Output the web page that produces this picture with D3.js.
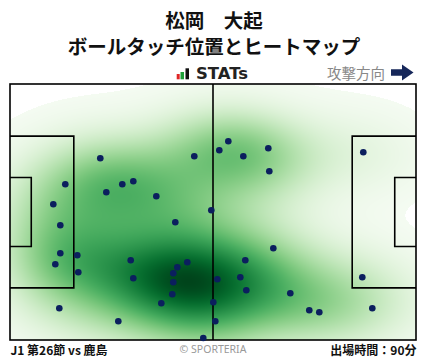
<!DOCTYPE html>
<html>
<head>
<meta charset="utf-8">
<script src="https://cdn.jsdelivr.net/npm/d3@7"></script>
<style>
  html, body { margin: 0; padding: 0; background: #fff; }
  svg { display: block; font-family: "Noto Sans CJK JP", "Noto Sans", sans-serif; }
</style>
</head>
<body>
<svg id="chart" width="428" height="359"></svg>
<script>
// Ball touch positions, pitch metres (105 x 68), attacking left -> right
const touchX = [23.35, 47.66, 54.13, 56.46, 60.34, 66.80, 67.06, 91.37, 14.30, 29.04,
                31.89, 24.91, 37.84, 11.20, 52.06, 13.01, 42.75, 68.10, 13.01, 17.41,
                11.72, 17.66, 31.22, 31.89, 45.85, 43.27, 42.23, 42.23, 41.97, 39.13,
                60.85, 59.56, 61.11, 53.61, 72.49, 77.40, 79.99, 91.11, 93.70, 12.75,
                28.01, 52.58, 53.10, 49.99];
const touchY = [19.74, 19.20, 17.61, 15.22, 19.20, 17.08, 23.19, 18.14, 26.64, 26.64,
                25.85, 28.77, 29.83, 31.95, 33.55, 37.53, 36.74, 43.64, 44.97, 45.50,
                47.89, 50.02, 46.83, 51.61, 47.36, 48.69, 50.28, 52.67, 55.86, 58.25,
                46.83, 51.35, 54.80, 51.88, 55.60, 60.11, 60.64, 51.35, 59.58, 59.58,
                63.03, 57.99, 63.03, 67.47];

const titleLines = ["松岡　大起", "ボールタッチ位置とヒートマップ"];
const matchLabel = "J1 第26節 vs 鹿島";
const minutesLabel = "出場時間：90分";
const creditLabel = "© SPORTERIA";
const directionLabel = "攻撃方向";

const PITCH_L = 105, PITCH_W = 68;

const svg = d3.select("#chart");
const x = d3.scaleLinear().domain([0, PITCH_L]).range([10, 416]);
const y = d3.scaleLinear().domain([0, PITCH_W]).range([84, 340]);

// ---- header ----
svg.append("text").attr("x", 214).attr("y", 27.5)
  .attr("text-anchor", "middle").attr("font-size", 19.5).attr("font-weight", 700)
  .attr("fill", "#111").text(titleLines[0]);
svg.append("text").attr("x", 214).attr("y", 54)
  .attr("text-anchor", "middle").attr("font-size", 19.5).attr("font-weight", 700)
  .attr("fill", "#111").text(titleLines[1]);

// STATs mark
const logo = svg.append("g");
logo.append("rect").attr("x", 176.7).attr("y", 74).attr("width", 3).attr("height", 5.3).attr("fill", "#e02525");
logo.append("rect").attr("x", 180.5).attr("y", 72).attr("width", 3.5).attr("height", 7.3).attr("fill", "#1fa03a");
logo.append("rect").attr("x", 185.5).attr("y", 68.3).attr("width", 3.5).attr("height", 11).attr("fill", "#111");
logo.append("text").attr("x", 196).attr("y", 79.3)
  .style("font-family", "'DejaVu Sans', sans-serif").attr("font-weight", 700)
  .attr("font-size", 15).attr("fill", "#222")
  .attr("textLength", 52).attr("lengthAdjust", "spacingAndGlyphs")
  .text("STATs");

// attack direction
svg.append("text").attr("x", 385).attr("y", 78.5).attr("text-anchor", "end")
  .attr("font-size", 14.5).attr("fill", "#888").text(directionLabel);
svg.append("path")
  .attr("d", "M391,69.3 L402,69.3 L402,64.5 L413.5,72.5 L402,80.5 L402,75.7 L391,75.7 Z")
  .attr("fill", "#16275a");

// ---- heat map (Gaussian KDE, Scott bandwidth) ----
const n = touchX.length;
const mxv = d3.mean(touchX), myv = d3.mean(touchY);
let sxx = 0, syy = 0, sxy = 0;
for (let i = 0; i < n; i++) {
  const dx = touchX[i] - mxv, dy = touchY[i] - myv;
  sxx += dx * dx; syy += dy * dy; sxy += dx * dy;
}
sxx /= (n - 1); syy /= (n - 1); sxy /= (n - 1);
const fac = Math.pow(n, -1 / 6);
const bxx = sxx * fac * fac, byy = syy * fac * fac, bxy = sxy * fac * fac;
const det = bxx * byy - bxy * bxy;
const ixx = byy / det, iyy = bxx / det, ixy = -bxy / det;

const x0 = x(0), y0 = y(0);
const GW = Math.round(x(PITCH_L) - x0), GH = Math.round(y(PITCH_W) - y0);
const dens = new Float64Array(GW * GH);
for (let j = 0; j < GH; j++) {
  const my = y.invert(y0 + j + 0.5);
  for (let i = 0; i < GW; i++) {
    const mx = x.invert(x0 + i + 0.5);
    let s = 0;
    for (let k = 0; k < n; k++) {
      const dx = mx - touchX[k], dy = my - touchY[k];
      s += Math.exp(-0.5 * (ixx * dx * dx + 2 * ixy * dx * dy + iyy * dy * dy));
    }
    dens[j * GW + i] = s;
  }
}
const dmax = d3.max(dens);
const thresh = 0.02;
const canvas = document.createElement("canvas");
canvas.width = GW; canvas.height = GH;
const ctx = canvas.getContext("2d");
const img = ctx.createImageData(GW, GH);
for (let p = 0; p < dens.length; p++) {
  const t = dens[p] / dmax;
  let r = 255, g = 255, b = 255;
  if (t >= thresh) {
    const c = d3.rgb(d3.interpolateGreens(t));
    r = c.r; g = c.g; b = c.b;
  }
  img.data[p * 4] = r; img.data[p * 4 + 1] = g; img.data[p * 4 + 2] = b; img.data[p * 4 + 3] = 255;
}
ctx.putImageData(img, 0, 0);
svg.append("image").attr("x", x0).attr("y", y0).attr("width", GW).attr("height", GH)
  .attr("href", canvas.toDataURL());

// ---- pitch markings ----
const lines = svg.append("g").attr("fill", "none").attr("stroke", "#000").attr("stroke-width", 1.6);
lines.append("rect").attr("x", x(0)).attr("y", y(0)).attr("width", x(PITCH_L) - x(0)).attr("height", y(PITCH_W) - y(0));
lines.append("line").attr("x1", x(PITCH_L / 2)).attr("x2", x(PITCH_L / 2)).attr("y1", y(0)).attr("y2", y(PITCH_W));
const boxes = [[16.5, 40.32], [5.5, 18.32]];
boxes.forEach(([d, w]) => {
  const top = y(PITCH_W / 2 - w / 2), h = y(PITCH_W / 2 + w / 2) - top;
  lines.append("path").attr("d", `M${x(0)},${top} H${x(d)} V${top + h} H${x(0)}`);
  lines.append("path").attr("d", `M${x(PITCH_L)},${top} H${x(PITCH_L - d)} V${top + h} H${x(PITCH_L)}`);
});

// ---- touches ----
svg.append("g").selectAll("circle").data(d3.range(n)).join("circle")
  .attr("cx", i => x(touchX[i])).attr("cy", i => y(touchY[i]))
  .attr("r", 3.3).attr("fill", "#0b1f5e");

// ---- footer ----
svg.append("text").attr("x", 10.5).attr("y", 355).attr("font-size", 12).attr("font-weight", 700)
  .attr("fill", "#111").text(matchLabel);
svg.append("text").attr("x", 213).attr("y", 353).attr("text-anchor", "middle")
  .style("font-family", "'Noto Sans', sans-serif").attr("font-size", 10.5).attr("fill", "#999").text(creditLabel);
svg.append("text").attr("x", 416.5).attr("y", 355).attr("text-anchor", "end").attr("font-size", 12).attr("font-weight", 700)
  .attr("fill", "#111").text(minutesLabel);
</script>
</body>
</html>
